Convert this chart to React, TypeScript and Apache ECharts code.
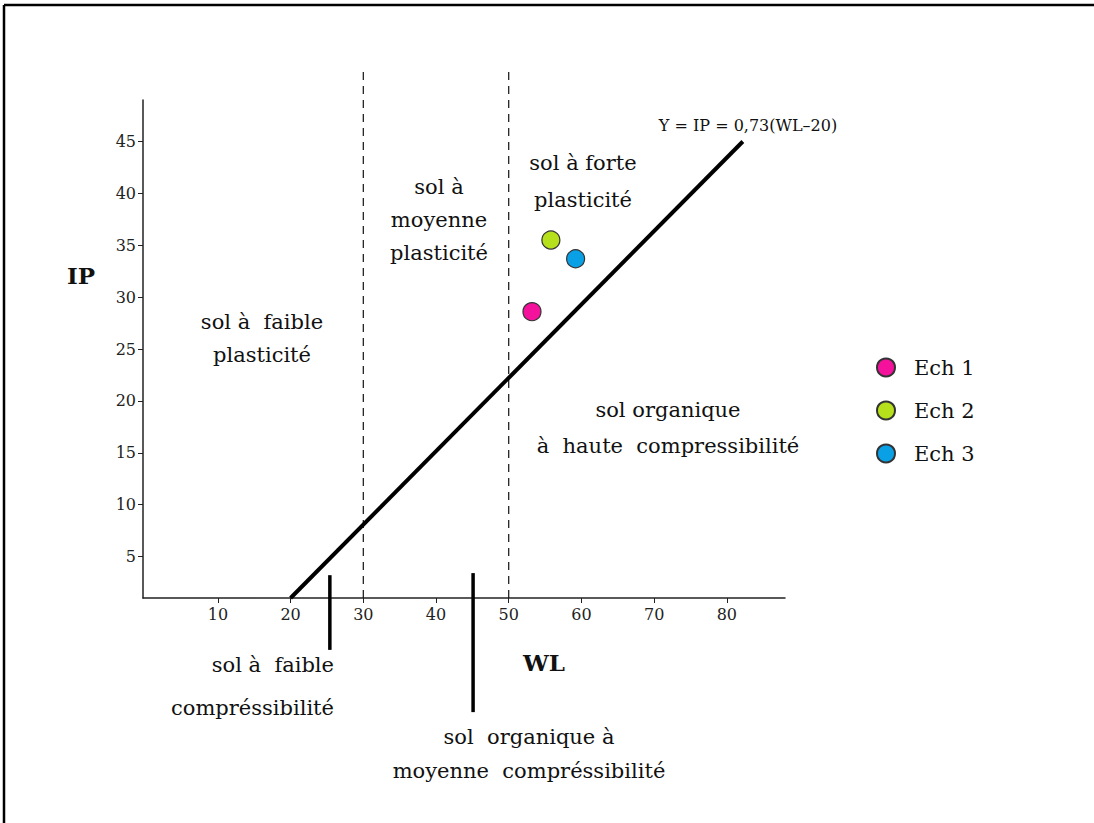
import React, { useEffect, useRef } from "react";
import * as echarts from "echarts";

// ---- data ----
const WL_TICKS = [10, 20, 30, 40, 50, 60, 70, 80];
const IP_TICKS = [5, 10, 15, 20, 25, 30, 35, 40, 45];
const WL_RANGE = [-0.3, 88];
const IP_RANGE = [1, 49];

// A-line : IP = 0.73 (WL - 20)
const A_LINE = [
  [20, 1],
  [82.2, 45],
];
// dashed limits of plasticity (WL = 30, WL = 50)
const DASHED_WL = [30, 50];
const DASHED_SPAN = [1, 52];
// short thick boundary marks under the axis [WL, IP top, IP bottom]
const BOUNDARY_MARKS = [
  [25.4, 3.2, -4.0],
  [45.1, 3.4, -10.0],
];

const SAMPLE_NAMES = ["Ech 1", "Ech 2", "Ech 3"];
const SAMPLE_WL = [53.2, 55.8, 59.2];
const SAMPLE_IP = [28.6, 35.5, 33.7];
const SAMPLE_COLORS = ["#f4119c", "#b6e01c", "#0aa0e6"];

const SERIF = '"DejaVu Serif", "Liberation Serif", serif';

export default function App() {
  const ref = useRef<HTMLDivElement>(null);

  useEffect(() => {
    if (!ref.current) return;
    const chart = echarts.init(ref.current, undefined, { renderer: "svg" });

    const series: any[] = [];
    series.push({
      type: "line",
      name: "A-line",
      data: A_LINE,
      symbol: "none",
      clip: false,
      silent: true,
      lineStyle: { color: "#000", width: 4 },
      z: 3,
    });
    DASHED_WL.forEach((wl, i) => {
      series.push({
        type: "line",
        name: "limit" + i,
        data: [
          [wl, DASHED_SPAN[0]],
          [wl, DASHED_SPAN[1]],
        ],
        symbol: "none",
        clip: false,
        silent: true,
        lineStyle: { color: "#111", width: 1.2, type: [8, 6] },
        z: 2,
      });
    });
    BOUNDARY_MARKS.forEach((m, i) => {
      series.push({
        type: "line",
        name: "mark" + i,
        data: [
          [m[0], m[1]],
          [m[0], m[2]],
        ],
        symbol: "none",
        clip: false,
        silent: true,
        lineStyle: { color: "#000", width: 3.5 },
        z: 3,
      });
    });
    SAMPLE_NAMES.forEach((name, i) => {
      series.push({
        type: "scatter",
        name,
        data: [[SAMPLE_WL[i], SAMPLE_IP[i]]],
        symbol: "circle",
        symbolSize: 18,
        itemStyle: {
          color: SAMPLE_COLORS[i],
          borderColor: "#333",
          borderWidth: 1.2,
          opacity: 1,
        },
        z: 5,
      });
    });

    const txt = (text: string, x: number, y: number, opts: any = {}) => ({
      type: "text",
      x,
      y,
      silent: true,
      style: {
        text,
        fill: "#111",
        font: `${opts.weight || "normal"} ${opts.size || 21}px ${SERIF}`,
        textAlign: opts.align || "center",
        textVerticalAlign: "middle",
        lineHeight: opts.lineHeight || 34,
      },
    });

    chart.setOption({
      animation: false,
      backgroundColor: "#fff",
      grid: { left: 143, top: 100, right: 309, bottom: 225, containLabel: false },
      xAxis: {
        type: "value",
        min: WL_RANGE[0],
        max: WL_RANGE[1],
        splitLine: { show: false },
        axisLine: { onZero: false, lineStyle: { color: "#222", width: 1.5 } },
        axisTick: { show: true, length: 5, customValues: WL_TICKS, lineStyle: { color: "#222" } },
        axisLabel: {
          customValues: WL_TICKS,
          margin: 8,
          color: "#222",
          fontFamily: SERIF,
          fontSize: 16,
        },
      },
      yAxis: {
        type: "value",
        min: IP_RANGE[0],
        max: IP_RANGE[1],
        splitLine: { show: false },
        axisLine: { show: true, onZero: false, lineStyle: { color: "#222", width: 1.5 } },
        axisTick: { show: true, length: 5, customValues: IP_TICKS, lineStyle: { color: "#222" } },
        axisLabel: {
          customValues: IP_TICKS,
          margin: 7,
          color: "#222",
          fontFamily: SERIF,
          fontSize: 16,
        },
      },
      legend: {
        data: SAMPLE_NAMES,
        orient: "vertical",
        left: 871,
        top: 352,
        itemGap: 22,
        itemWidth: 18,
        itemHeight: 18,
        icon: "circle",
        textStyle: {
          fontFamily: SERIF,
          fontSize: 21,
          color: "#111",
          padding: [0, 0, 0, 14],
        },
      },
      graphic: [
        {
          type: "line",
          silent: true,
          shape: { x1: 4, y1: 5, x2: 1094, y2: 5 },
          style: { stroke: "#000", lineWidth: 2.5 },
        },
        {
          type: "line",
          silent: true,
          shape: { x1: 4, y1: 5, x2: 4, y2: 823 },
          style: { stroke: "#000", lineWidth: 2.5 },
        },
        txt("IP", 81, 275, { weight: "bold", size: 23 }),
        txt("WL", 544, 662, { weight: "bold", size: 23 }),
        txt("Y = IP = 0,73(WL\u201320)", 748, 125, { size: 16 }),
        txt("sol à forte\nplasticité", 583, 181, { lineHeight: 37 }),
        txt("sol à\nmoyenne\nplasticité", 439, 220, { lineHeight: 33 }),
        txt("sol à  faible\nplasticité", 262, 338, { lineHeight: 33 }),
        txt("sol organique\nà  haute  compressibilité", 668, 428, { lineHeight: 36 }),
        txt("sol à  faible\ncompréssibilité", 334, 686, { lineHeight: 43, align: "right" }),
        txt("sol  organique à\nmoyenne  compréssibilité", 529, 754, { lineHeight: 34 }),
      ],
      series,
    });

    return () => chart.dispose();
  }, []);

  return (
    <div
      ref={ref}
      style={{ position: "absolute", left: 0, top: 0, width: 1094, height: 823 }}
    />
  );
}
